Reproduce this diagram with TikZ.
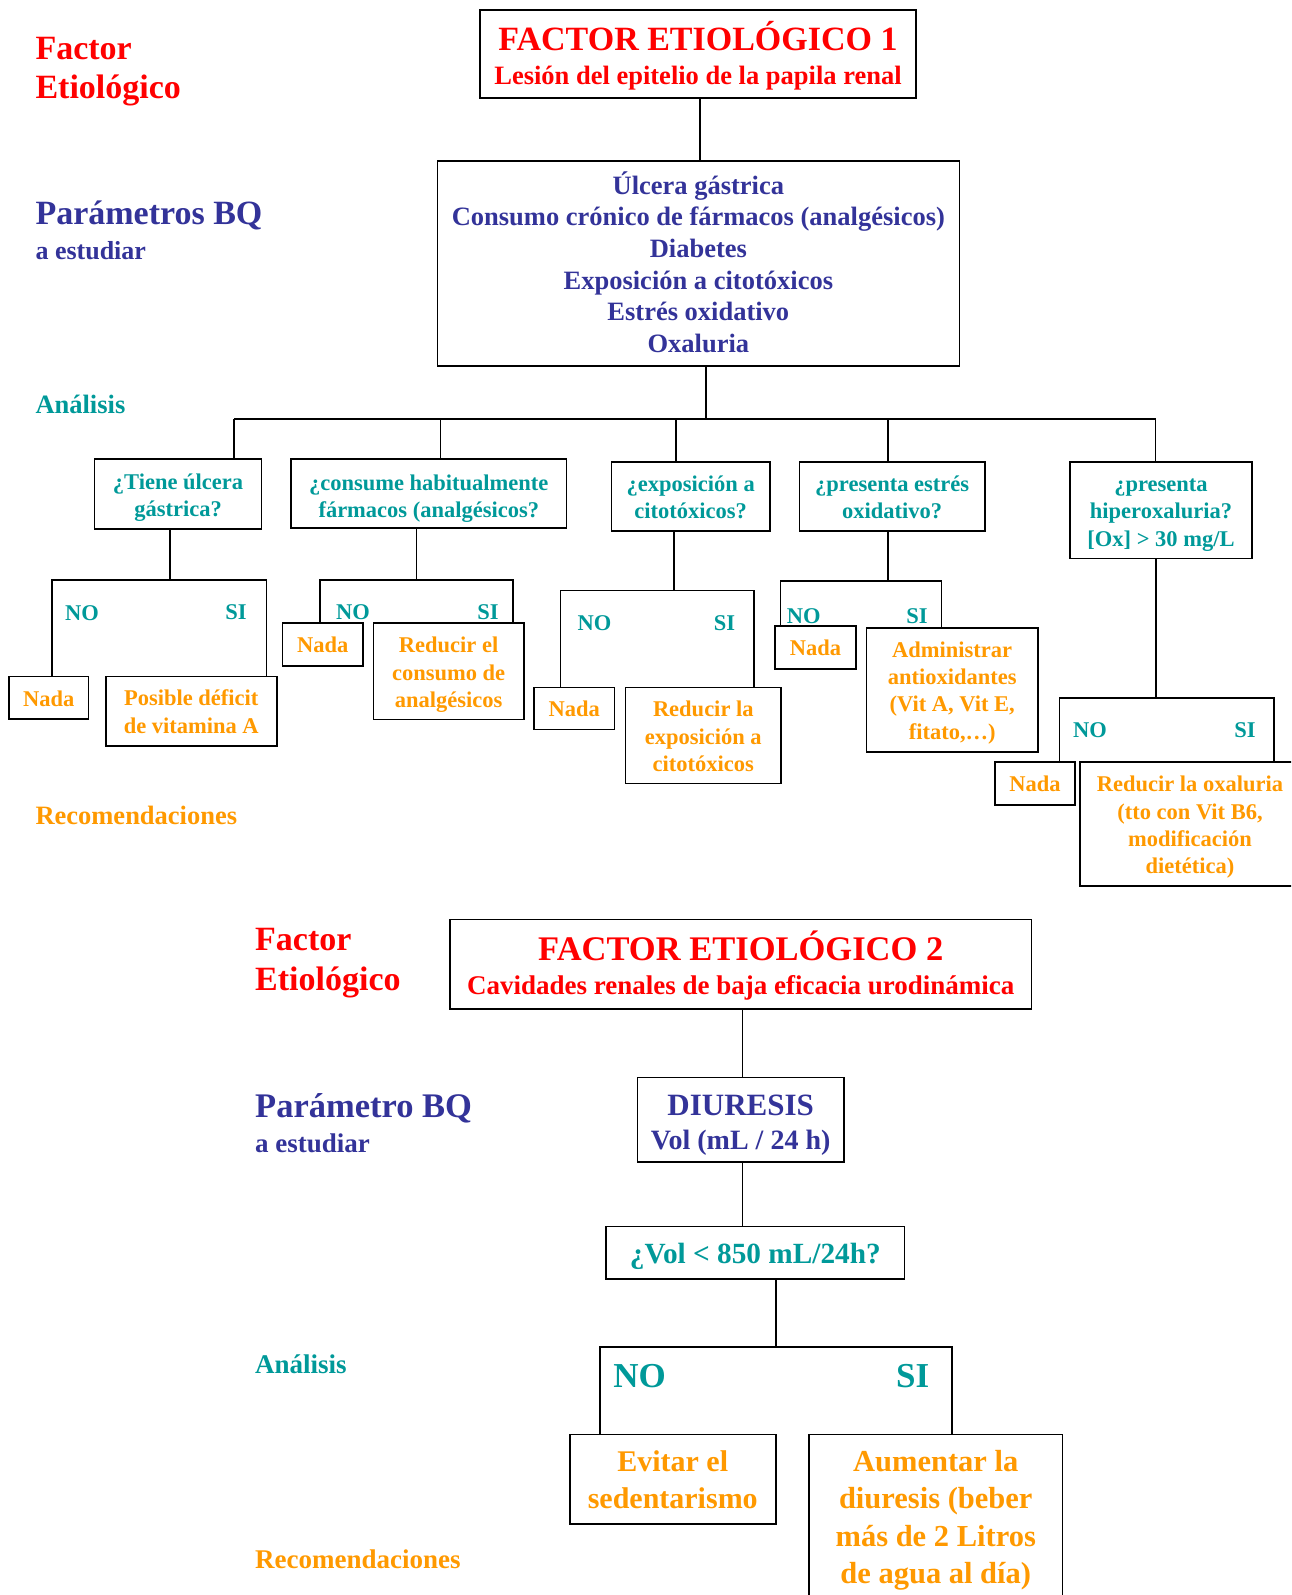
\documentclass[tikz,border=0pt]{standalone}
\usepackage{fontspec}
\setmainfont{Liberation Serif}
\definecolor{cred}{HTML}{FF0000}
\definecolor{cnavy}{HTML}{333399}
\definecolor{cteal}{HTML}{009999}
\definecolor{corange}{HTML}{FF9900}
\newcommand\fsz[2]{\fontsize{#1}{#2}\selectfont\bfseries}
\begin{document}
\begin{tikzpicture}[x=1pt,y=-1pt,
  box/.style={draw=black, line width=1.6pt, inner sep=0pt, align=flush center},
  sz/.style 2 args={minimum width=#1, text width=#1, minimum height=#2},
  bh/.style={text height=#1, text depth=0pt},
  bd/.style={text height=0pt, text depth=#1},
  lbl/.style={anchor=base west, inner sep=0pt},
  yn/.style={inner sep=0pt, font=\fsz{22.5}{27}, text=cteal},
  ynbig/.style={inner sep=0pt, font=\fsz{35}{40}, text=cteal},
  qbox/.style={box, text=cteal, font=\fsz{22.5}{27.2}},
  abox/.style={box, text=corange, font=\fsz{22.5}{27.3}},
  conn/.style={draw=black, line width=1.6pt}
]
\useasboundingbox (0,0) rectangle (1291,1595);
\clip (0,0) rectangle (1291,1595);

% ---------- left labels, top ----------
\node[lbl, text=cred, font=\fsz{34}{40}] (fe1a) at (35.3,59.3) {Factor};
\node[lbl, text=cred, font=\fsz{34}{40}] (fe1b) at (35.3,99) {Etiológico};
\node[lbl, text=cnavy, font=\fsz{34}{40}] (pb1a) at (35.3,224.5) {Parámetros BQ};
\node[lbl, text=cnavy, font=\fsz{26}{30}] (pb1b) at (35.3,259) {a estudiar};
\node[lbl, text=cteal, font=\fsz{26.5}{30}] (an1) at (35.3,413.5) {Análisis};
\node[lbl, text=corange, font=\fsz{26.5}{30}] (re1) at (35.3,824) {Recomendaciones};

% ---------- top boxes ----------
\node[box, text=cred, font=\fsz{26.5}{34.3}, sz={436pt}{88pt}, bd=6.6pt] (box1) at (698,54)
  {{\fontsize{34}{38}\selectfont FACTOR ETIOLÓGICO 1}\\Lesión del epitelio de la papila renal};
\node[box, text=cnavy, font=\fsz{26.5}{31.7}, sz={521.9pt}{205.5pt}, bd=138.9pt] (box2) at (698.35,263.45)
  {Úlcera gástrica\\Consumo crónico de fármacos (analgésicos)\\Diabetes\\Exposición a citotóxicos\\Estrés oxidativo\\Oxaluria};

% questions
\node[qbox, sz={166.9pt}{70pt}, bd=10pt] (q1) at (178.05,494) {¿Tiene úlcera\\gástrica?};
\node[qbox, sz={275.6pt}{69pt}, bd=7pt] (q2) at (428.8,493.5) {¿consume habitualmente\\fármacos (analgésicos?};
\node[qbox, sz={158.6pt}{69pt}, bd=9.6pt] (q3) at (690.7,496.5) {¿exposición a\\citotóxicos?};
\node[qbox, sz={185.1pt}{69pt}, bd=9.6pt] (q4) at (892.15,496.5) {¿presenta estrés\\oxidativo?};
\node[qbox, sz={182pt}{96.5pt}, bd=37.1pt] (q5) at (1161,510.25) {¿presenta\\hiperoxaluria?\\{[}Ox{]} > 30 mg/L};

% answers
\node[abox, sz={79.5pt}{42.5pt}, bh=17.9pt] (n1) at (48.75,697.75) {Nada};
\node[abox, sz={170.9pt}{69.2pt}, bd=10.8pt] (a1) at (191.25,711.1) {Posible déficit\\de vitamina A};
\node[abox, sz={80.7pt}{43.2pt}, bh=15.8pt] (n2) at (322.85,644.4) {Nada};
\node[abox, sz={150.3pt}{96.7pt}, bd=36.9pt] (a2) at (448.65,671.15) {Reducir el\\consumo de\\analgésicos};
\node[abox, sz={80.5pt}{41.9pt}, bh=16.5pt] (n3) at (574.25,708.45) {Nada};
\node[abox, sz={155.8pt}{96.1pt}, bd=37.7pt] (a3) at (703.3,735.55) {Reducir la\\exposición a\\citotóxicos};
\node[abox, sz={80.8pt}{42.8pt}, bh=16.6pt] (n4) at (815.4,647.4) {Nada};
\node[abox, sz={171.2pt}{124.1pt}, bd=64.9pt] (a4) at (952.2,689.75) {Administrar\\antioxidantes\\(Vit A, Vit E,\\fitato,…)};
\node[abox, sz={80pt}{42.7pt}, bh=16.7pt] (n5) at (1035,783.35) {Nada};
\node[abox, sz={220pt}{124pt}, bd=64.6pt] (a5) at (1190,824) {Reducir la oxaluria\\(tto con Vit B6,\\modificación\\dietética)};

% NO / SI labels
\node[yn] (no1) at (82,613) {NO};
\node[yn] (si1) at (236,612.5) {SI};
\node[yn] (no2) at (353,612) {NO};
\node[yn] (si2) at (488,612) {SI};
\node[yn] (no3) at (594.6,623.3) {NO};
\node[yn] (si3) at (724.5,623.3) {SI};
\node[yn] (no4) at (803.8,616.3) {NO};
\node[yn] (si4) at (917,616.3) {SI};
\node[yn] (no5) at (1090,730) {NO};
\node[yn] (si5) at (1245,730) {SI};

% ---------- top connectors ----------
\coordinate (c12) at (700,98);
\draw[conn] (box1.south -| c12) -- (box2.north -| c12);
\coordinate (bus) at (706,419);
\coordinate (busL) at (234,419);
\coordinate (busR) at (1155.6,419);
\coordinate (d2) at (440.5,419);
\coordinate (d3) at (676,419);
\coordinate (d4) at (888,419);
\draw[conn] (box2.south -| bus) -- (bus);
\draw[conn] (busL) -- (busR);
\draw[conn] (busL) -- (q1.north -| busL);
\draw[conn] (d2) -- (q2.north -| d2);
\draw[conn] (d3) -- (q3.north -| d3);
\draw[conn] (d4) -- (q4.north -| d4);
\draw[conn] (busR) -- (q5.north -| busR);

\coordinate (t1) at (170,580);   \coordinate (l1) at (52,580);    \coordinate (r1) at (266.5,580);
\coordinate (t2) at (416.4,580); \coordinate (l2) at (320,580);   \coordinate (r2) at (512.8,580);
\coordinate (t3) at (674,590.5); \coordinate (l3) at (560.6,590.5); \coordinate (r3) at (754,590.5);
\coordinate (t4) at (888,581);   \coordinate (l4) at (780.4,581); \coordinate (r4) at (941.3,581);
\coordinate (t5) at (1156,698);  \coordinate (l5) at (1059.6,698); \coordinate (r5) at (1273.7,698);

\draw[conn] (q1.south -| t1) -- (t1);
\draw[conn] (n1.north -| l1) -- (l1) -- (r1) -- (a1.north -| r1);
\draw[conn] (q2.south -| t2) -- (t2);
\draw[conn] (n2.north -| l2) -- (l2) -- (r2) -- (a2.north -| r2);
\draw[conn] (q3.south -| t3) -- (t3);
\draw[conn] (n3.north -| l3) -- (l3) -- (r3) -- (a3.north -| r3);
\draw[conn] (q4.south -| t4) -- (t4);
\draw[conn] (n4.north -| l4) -- (l4) -- (r4) -- (a4.north -| r4);
\draw[conn] (q5.south -| t5) -- (t5);
\draw[conn] (n5.north -| l5) -- (l5) -- (r5) -- (a5.north -| r5);

% ---------- bottom section ----------
\node[lbl, text=cred, font=\fsz{34}{40}] (fe2a) at (255,950) {Factor};
\node[lbl, text=cred, font=\fsz{34}{40}] (fe2b) at (255,990) {Etiológico};
\node[lbl, text=cnavy, font=\fsz{34.5}{40}] (pb2a) at (255,1117.5) {Parámetro BQ};
\node[lbl, text=cnavy, font=\fsz{27}{30}] (pb2b) at (255,1152) {a estudiar};
\node[lbl, text=cteal, font=\fsz{27}{30}] (an2) at (255,1373.5) {Análisis};
\node[lbl, text=corange, font=\fsz{27}{30}] (re2) at (255,1568) {Recomendaciones};

\node[box, text=cred, font=\fsz{27}{33.3}, sz={581.6pt}{89.7pt}, bd=7.3pt] (f2) at (740.8,964.35)
  {{\fontsize{34.5}{38}\selectfont FACTOR ETIOLÓGICO 2}\\Cavidades renales de baja eficacia urodinámica};
\node[box, text=cnavy, font=\fsz{28}{34.3}, sz={206.2pt}{84.5pt}, bd=9.5pt] (diu) at (740.7,1119.75)
  {{\fontsize{31}{34}\selectfont DIURESIS}\\Vol (mL / 24 h)};
\node[box, text=cteal, font=\fsz{29.3}{34}, sz={298.3pt}{52.5pt}, bh=21.1pt] (vol) at (755.35,1252.75)
  {¿Vol < 850 mL/24h?};
\node[box, text=corange, font=\fsz{30}{36.6}, sz={206.1pt}{89.6pt}, bd=15pt] (ev) at (672.75,1479.2)
  {Evitar el\\sedentarismo};
\node[box, text=corange, font=\fsz{30.5}{37.2}, sz={253.5pt}{168pt}, bd=93.4pt] (au) at (935.75,1518.4)
  {Aumentar la\\diuresis (beber\\más de 2 Litros\\de agua al día)};

\node[ynbig] (no6) at (639.7,1376) {NO};
\node[ynbig] (si6) at (912.7,1376) {SI};

\coordinate (c23) at (742.6,1009);
\draw[conn] (f2.south -| c23) -- (diu.north -| c23);
\draw[conn] (diu.south -| c23) -- (vol.north -| c23);
\coordinate (t6) at (776.2,1347); \coordinate (l6) at (599.8,1347); \coordinate (r6) at (952,1347);
\draw[conn] (vol.south -| t6) -- (t6);
\draw[conn] (ev.north -| l6) -- (l6) -- (r6) -- (au.north -| r6);
\end{tikzpicture}
\end{document}
